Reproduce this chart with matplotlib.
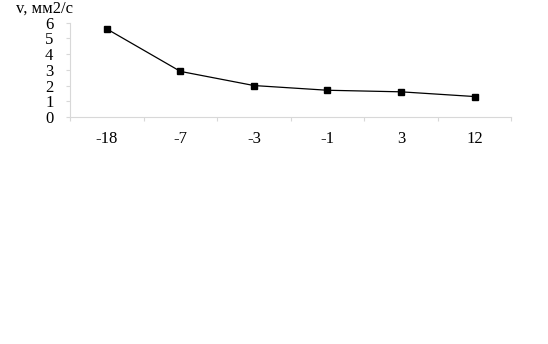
import matplotlib
matplotlib.use("Agg")
import matplotlib.pyplot as plt
import numpy as np

# данные
temps = ["-18", "-7", "-3", "-1", "3", "12"]
viscosity = [5.6, 2.9, 2.0, 1.7, 1.6, 1.3]
y_ticks = [0, 1, 2, 3, 4, 5, 6]

plt.rcParams['font.family'] = ['Liberation Serif', 'DejaVu Serif']

fig = plt.figure(figsize=(5.48, 3.44), dpi=100)
ax = fig.add_axes([0.128, 0.660, 0.805, 0.274])

x = np.arange(len(temps))
ax.plot(x, viscosity, color='black', linewidth=0.9, marker='s',
        markersize=4.5, markerfacecolor='black', markeredgecolor='black')

ax.set_xlim(-0.5, len(temps) - 0.5)
ax.set_ylim(0, 6)
ax.set_yticks(y_ticks)
ax.set_yticklabels([str(v) for v in y_ticks], fontsize=12)

# подписи категорий по центрам, засечки между категориями
ax.set_xticks(np.arange(len(temps) + 1) - 0.5)
ax.set_xticklabels([])
ax.set_xticks(x, minor=True)
ax.set_xticklabels(temps, minor=True, fontsize=12)
ax.tick_params(axis='x', which='minor', length=0, pad=10)
ax.tick_params(axis='x', which='major', length=3, color='#d8d8d8', direction='out')
ax.tick_params(axis='y', length=3, color='#d8d8d8', pad=9)

for side in ['top', 'right']:
    ax.spines[side].set_visible(False)
for side in ['left', 'bottom']:
    ax.spines[side].set_color('#d8d8d8')
    ax.spines[side].set_linewidth(0.8)

fig.text(0.029, 0.974, "v, мм2/с", fontsize=12, va='center', ha='left')

fig.savefig("out.png", dpi=100, facecolor='white')
